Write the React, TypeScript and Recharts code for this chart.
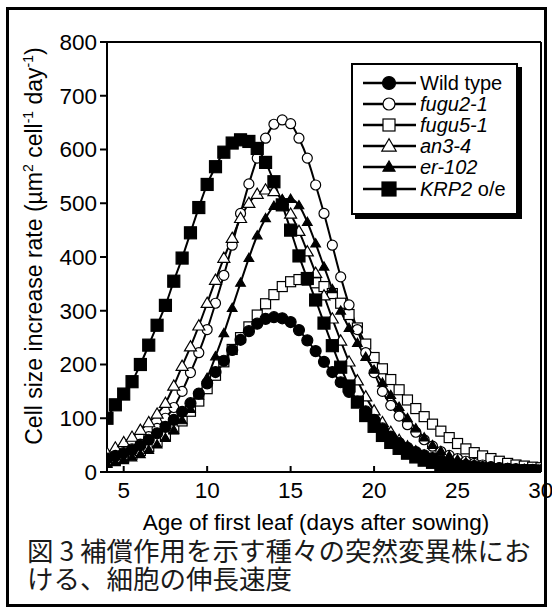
import { LineChart, Line, XAxis, YAxis } from "recharts";

// days after sowing (x)
const days = [
  4, 4.5, 5, 5.5, 6, 6.5, 7, 7.5, 8, 8.5, 9, 9.5, 10, 10.5, 11, 11.5, 12, 12.5,
  13, 13.5, 14, 14.5, 15, 15.5, 16, 16.5, 17, 17.5, 18, 18.5, 19, 19.5, 20,
  20.5, 21, 21.5, 22, 22.5, 23, 23.5, 24, 24.5, 25, 25.5, 26, 26.5, 27, 27.5,
  28, 28.5, 29, 29.5, 30,
];

const wildType = [
  25, 30, 35, 42, 50, 60, 72, 84, 97, 112, 128, 146, 165, 186, 207, 227, 246,
  262, 276, 285, 288, 286, 279, 264, 245, 225, 205, 186, 167, 149, 131, 113, 97,
  81, 66, 54, 45, 37, 31, 26, 21, 18, 15, 13, 11, 9, 8, 7, 6, 5, 4, 4, 3,
];
const fugu21 = [
  18, 23, 30, 40, 52, 66, 81, 100, 120, 150, 185, 222, 265, 314, 366, 422, 481,
  536, 584, 621, 647, 655, 648, 621, 584, 534, 481, 422, 363, 311, 265, 222,
  185, 150, 124, 104, 88, 74, 60, 48, 38, 31, 25, 20, 16, 13, 10, 8, 7, 6, 5, 4,
  3,
];
const fugu51 = [
  18, 22, 27, 33, 40, 47, 56, 68, 80, 95, 113, 132, 155, 180, 205, 228, 250,
  270, 292, 313, 330, 345, 354, 358, 357, 352, 345, 332, 314, 293, 268, 238,
  213, 192, 172, 153, 134, 118, 103, 89, 76, 64, 53, 43, 36, 30, 25, 20, 16, 13,
  11, 9, 8,
];
const an34 = [
  35, 45, 55, 65, 78, 92, 108, 128, 160, 197, 233, 272, 314, 357, 398, 435, 472,
  500, 517, 525, 522, 505, 480, 448, 410, 370, 328, 285, 244, 205, 170, 140,
  114, 92, 74, 59, 47, 38, 30, 24, 19, 15, 12, 10, 8, 6, 5, 4, 4, 3, 3, 2, 2,
];
const er102 = [
  15, 18, 22, 27, 33, 41, 51, 63, 78, 96, 117, 142, 175, 215, 258, 305, 352,
  398, 440, 472, 495, 507, 508, 496, 465, 425, 382, 340, 300, 268, 240, 214,
  190, 166, 143, 121, 100, 81, 64, 50, 39, 30, 23, 18, 14, 11, 9, 7, 6, 5, 4, 3,
  3,
];
const krp2 = [
  100, 125, 145, 168, 200, 236, 273, 310, 355, 398, 445, 492, 535, 568, 595,
  612, 618, 615, 602, 576, 540, 497, 450, 402, 360, 320, 277, 235, 195, 160,
  130, 105, 85, 68, 55, 44, 35, 28, 22, 18, 14, 11, 9, 7, 6, 5, 4, 3, 3, 2, 2,
  2, 1,
];

const xTicks = [5, 10, 15, 20, 25, 30];
const yTicks = [0, 100, 200, 300, 400, 500, 600, 700, 800];

const data = days.map((day, i) => ({
  day,
  wildType: wildType[i],
  fugu21: fugu21[i],
  fugu51: fugu51[i],
  an34: an34[i],
  er102: er102[i],
  krp2: krp2[i],
}));

type Shape = "circle" | "square" | "triangle";

interface Series {
  key: string;
  label: React.ReactNode;
  shape: Shape;
  filled: boolean;
  size: number;
}

const series: Series[] = [
  { key: "wildType", label: "Wild type", shape: "circle", filled: true, size: 11 },
  { key: "fugu21", label: <i>fugu2-1</i>, shape: "circle", filled: false, size: 10 },
  { key: "fugu51", label: <i>fugu5-1</i>, shape: "square", filled: false, size: 10 },
  { key: "an34", label: <i>an3-4</i>, shape: "triangle", filled: false, size: 10 },
  { key: "er102", label: <i>er-102</i>, shape: "triangle", filled: true, size: 8 },
  {
    key: "krp2",
    label: (
      <>
        <i>KRP2</i> o/e
      </>
    ),
    shape: "square",
    filled: true,
    size: 12,
  },
];

// drawing order (later = on top)
const drawOrder = ["fugu51", "fugu21", "an34", "er102", "krp2", "wildType"];

const Marker = ({
  cx,
  cy,
  shape,
  filled,
  size,
}: {
  cx: number;
  cy: number;
  shape: Shape;
  filled: boolean;
  size: number;
}) => {
  const fill = filled ? "#000" : "#fff";
  const h = size / 2;
  if (shape === "circle")
    return <circle cx={cx} cy={cy} r={h} fill={fill} stroke="#000" strokeWidth={1.2} />;
  if (shape === "square")
    return (
      <rect x={cx - h} y={cy - h} width={size} height={size} fill={fill} stroke="#000" strokeWidth={1.2} />
    );
  const t = size * 0.6;
  return (
    <polygon
      points={`${cx},${cy - t} ${cx - t},${cy + t * 0.7} ${cx + t},${cy + t * 0.7}`}
      fill={fill}
      stroke="#000"
      strokeWidth={1.2}
    />
  );
};

const dotFor = (s: Series) => (props: any) => {
  const { cx, cy, index } = props;
  if (cx == null || cy == null) return <g key={`${s.key}-${index}`} />;
  return (
    <Marker key={`${s.key}-${index}`} cx={cx} cy={cy} shape={s.shape} filled={s.filled} size={s.size} />
  );
};

const font = "'Liberation Sans', Arial, Helvetica, sans-serif";
const tickStyle = { fontSize: 22.5, fill: "#000", fontFamily: font };

const LegendBox = () => (
  <div
    style={{
      position: "absolute",
      left: 351,
      top: 63,
      width: 163,
      height: 141,
      border: "2px solid #000",
      boxShadow: "4px 4px 0 #000",
      background: "#fff",
      fontFamily: font,
      fontSize: 20,
      paddingTop: 7,
      boxSizing: "content-box",
    }}
  >
    {series.map((s) => (
      <div key={s.key} style={{ display: "flex", alignItems: "center", height: 21.2 }}>
        <svg width={64} height={20} style={{ marginLeft: 8 }}>
          <line x1={2} y1={10} x2={55} y2={10} stroke="#000" strokeWidth={2.5} />
          <Marker cx={28} cy={10} shape={s.shape} filled={s.filled} size={s.size + 2} />
        </svg>
        <span style={{ marginLeft: -5, lineHeight: "20px" }}>{s.label}</span>
      </div>
    ))}
  </div>
);

export default function App() {
  return (
    <div
      style={{
        position: "absolute",
        left: 0,
        top: 0,
        width: 552,
        height: 610,
        background: "#fff",
        overflow: "hidden",
      }}
    >
      <div
        style={{
          position: "absolute",
          left: 6,
          top: 7,
          width: 541,
          height: 600,
          border: "3px solid #000",
          boxSizing: "border-box",
        }}
      />
      <div style={{ position: "absolute", left: 0, top: 0 }}>
        <LineChart
          width={552}
          height={610}
          data={data}
          margin={{ top: 0, right: 0, bottom: 0, left: 0 }}
        >
          <XAxis
            dataKey="day"
            type="number"
            domain={[4, 30]}
            ticks={xTicks}
            allowDataOverflow
            height={138}
            tickSize={-6}
            tickMargin={16}
            tick={tickStyle}
            axisLine={{ stroke: "#000", strokeWidth: 2 }}
            tickLine={{ stroke: "#000", strokeWidth: 2 }}
          />
          <XAxis
            xAxisId="top"
            orientation="top"
            dataKey="day"
            type="number"
            domain={[4, 30]}
            ticks={xTicks}
            allowDataOverflow
            height={42}
            tickSize={-6}
            tick={false}
            axisLine={{ stroke: "#000", strokeWidth: 2 }}
            tickLine={{ stroke: "#000", strokeWidth: 2 }}
          />
          <YAxis
            type="number"
            domain={[0, 800]}
            ticks={yTicks}
            allowDataOverflow
            width={107}
            tickSize={7}
            tickMargin={3}
            tick={tickStyle}
            axisLine={{ stroke: "#000", strokeWidth: 2 }}
            tickLine={{ stroke: "#000", strokeWidth: 2 }}
          />
          <YAxis
            yAxisId="right"
            orientation="right"
            type="number"
            domain={[0, 800]}
            ticks={yTicks}
            allowDataOverflow
            width={11}
            tickSize={-6}
            tick={false}
            axisLine={{ stroke: "#000", strokeWidth: 2 }}
            tickLine={{ stroke: "#000", strokeWidth: 2 }}
          />
          {drawOrder.map((k) => {
            const s = series.find((x) => x.key === k)!;
            return (
              <Line
                key={k}
                dataKey={k}
                type="monotone"
                stroke="#000"
                strokeWidth={2}
                dot={dotFor(s)}
                activeDot={false}
                isAnimationActive={false}
              />
            );
          })}
        </LineChart>
      </div>
      <LegendBox />
      <div
        style={{
          position: "absolute",
          left: 31,
          top: 246,
          transform: "translate(-50%, -50%) rotate(-90deg)",
          whiteSpace: "nowrap",
          fontFamily: font,
          fontSize: 23,
          lineHeight: "26px",
        }}
      >
        Cell size increase rate (µm<sup style={{ fontSize: 14 }}>2</sup> cell
        <sup style={{ fontSize: 14 }}>-1</sup> day<sup style={{ fontSize: 14 }}>-1</sup>)
      </div>
      <div
        style={{
          position: "absolute",
          left: 316,
          top: 523,
          transform: "translate(-50%, -50%)",
          whiteSpace: "nowrap",
          fontFamily: font,
          fontSize: 22.5,
          lineHeight: "22px",
        }}
      >
        Age of first leaf (days after sowing)
      </div>
      <div
        style={{
          position: "absolute",
          left: 27,
          top: 536,
          fontFamily: "'Noto Sans CJK JP', serif",
          fontSize: 26.5,
          lineHeight: "28px",
          whiteSpace: "nowrap",
          color: "#1a1a1a",
        }}
      >
        <div>図 3 補償作用を示す種々の突然変異株にお</div>
        <div>ける、細胞の伸長速度</div>
      </div>
    </div>
  );
}
